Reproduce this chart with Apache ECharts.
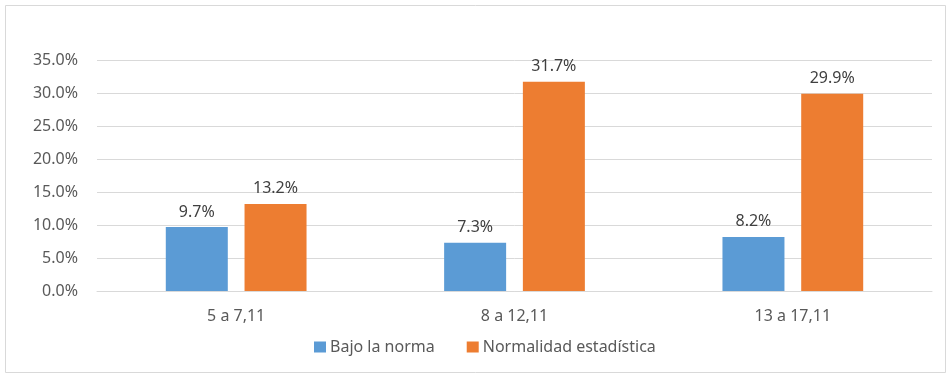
<!DOCTYPE html>
<html>
<head>
<meta charset="utf-8">
<script src="https://cdn.jsdelivr.net/npm/echarts@6/dist/echarts.min.js"></script>
<style>
  html, body { margin: 0; padding: 0; background: #fff; }
  #chart { width: 952px; height: 380px; }
</style>
</head>
<body>
<div id="chart"></div>
<script>
const categories = ['5 a 7,11', '8 a 12,11', '13 a 17,11']
const bajoNorma = [9.7, 7.3, 8.2]
const normalidad = [13.2, 31.7, 29.9]
const seriesNames = ['Bajo la norma', 'Normalidad estadística']

const font = '"Noto Sans", "Open Sans", sans-serif'
const chart = echarts.init(document.getElementById('chart'))

const labelStyle = {
  show: true, position: 'top', distance: 7,
  fontFamily: font, fontSize: 16, color: '#404040',
  formatter: p => p.value.toFixed(1) + '%'
}

chart.setOption({
  backgroundColor: '#fff',
  animation: false,
  textStyle: { fontFamily: font },
  graphic: [{
    type: 'rect',
    shape: { x: 5.5, y: 5.5, width: 940, height: 367 },
    style: { fill: 'none', stroke: '#d9d9d9', lineWidth: 1 },
    silent: true
  }],
  legend: {
    data: seriesNames,
    bottom: 20, left: 309,
    itemWidth: 12, itemHeight: 11, itemGap: 32,
    icon: 'rect',
    textStyle: { fontFamily: font, fontSize: 16, color: '#595959', padding: [0, 0, 0, -1] }
  },
  grid: { left: 97, right: 20, top: 60, bottom: 89 },
  xAxis: {
    type: 'category',
    data: categories,
    axisTick: { show: false },
    axisLine: { lineStyle: { color: '#d9d9d9' } },
    axisLabel: { fontFamily: font, fontSize: 16, color: '#595959', margin: 17 }
  },
  yAxis: {
    type: 'value',
    min: 0, max: 35, interval: 5,
    axisLine: { show: false },
    axisTick: { show: false },
    axisLabel: { fontFamily: font, fontSize: 16, color: '#595959', margin: 19, formatter: v => v.toFixed(1) + '%' },
    splitLine: { lineStyle: { color: '#d9d9d9' } }
  },
  series: [
    {
      name: seriesNames[0], type: 'bar', data: bajoNorma,
      barWidth: 62, barGap: '27%',
      itemStyle: { color: '#5B9BD5' },
      label: labelStyle
    },
    {
      name: seriesNames[1], type: 'bar', data: normalidad,
      barWidth: 62, barGap: '27%',
      itemStyle: { color: '#ED7D31' },
      label: labelStyle
    }
  ]
})
</script>
</body>
</html>
